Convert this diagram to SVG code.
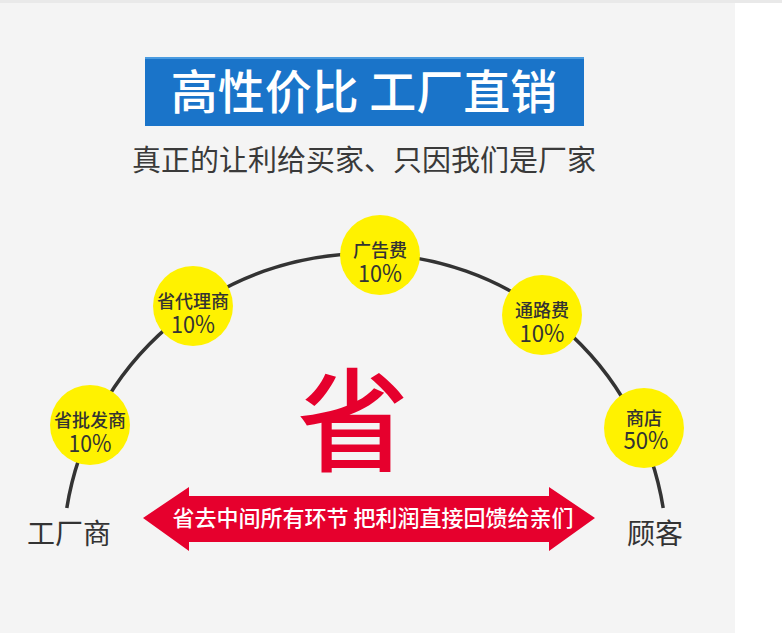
<svg xmlns="http://www.w3.org/2000/svg" width="782" height="639" viewBox="0 0 782 639">
<style>
.cjk{font-family:"Noto Sans CJK SC","Noto Sans",sans-serif}
.circ{fill:#fff200}
.lbl{font-size:18px;fill:#333;text-anchor:middle;font-weight:500}
.pct{font-size:24px;fill:#333;text-anchor:middle}
.end{font-size:28px;fill:#333;text-anchor:middle}
.arc{fill:none;stroke:#333;stroke-width:3.5}
</style>
<rect x="0" y="0" width="782" height="639" fill="#ffffff"/>
<rect x="0" y="0" width="735" height="633" fill="#f4f4f4"/>
<rect x="0" y="0" width="782" height="3" fill="#e9e9e9"/>
<g id="title">
<rect x="145" y="57" width="439" height="69" fill="#1a74c9"/>
<rect x="145" y="57" width="439" height="2" fill="#4a9be0"/>
<text class="cjk" x="364" y="109" font-size="47" font-weight="500" fill="#ffffff" text-anchor="middle">高性价比 工厂直销</text>
</g>
<g id="subtitle">
<text class="cjk" x="364" y="171" font-size="29" fill="#3a3a3a" text-anchor="middle">真正的让利给买家、只因我们是厂家</text>
</g>
<g id="connectors">
<path class="arc" d="M 66.8 508 A 302 302 0 0 1 663.2 508"/>
</g>
<g id="node-pifa">
<circle class="circ" cx="90" cy="425" r="40"/>
<text class="cjk lbl" x="90" y="427">省批发商</text>
<text class="cjk pct" x="90" y="452" textLength="43" lengthAdjust="spacingAndGlyphs">10%</text>
</g>
<g id="node-daili">
<circle class="circ" cx="193" cy="306" r="40"/>
<text class="cjk lbl" x="193" y="308">省代理商</text>
<text class="cjk pct" x="193" y="333" textLength="44" lengthAdjust="spacingAndGlyphs">10%</text>
</g>
<g id="node-guanggao">
<circle class="circ" cx="380" cy="255" r="40"/>
<text class="cjk lbl" x="380" y="257">广告费</text>
<text class="cjk pct" x="380" y="282" textLength="44" lengthAdjust="spacingAndGlyphs">10%</text>
</g>
<g id="node-tonglu">
<circle class="circ" cx="542" cy="315" r="40"/>
<text class="cjk lbl" x="542" y="317">通路费</text>
<text class="cjk pct" x="542" y="342" textLength="45" lengthAdjust="spacingAndGlyphs">10%</text>
</g>
<g id="node-shangdian">
<circle class="circ" cx="644" cy="428" r="40"/>
<text class="cjk lbl" x="644" y="425">商店</text>
<text class="cjk pct" x="646" y="449" textLength="45" lengthAdjust="spacingAndGlyphs">50%</text>
</g>
<g id="node-factory">
<text class="cjk end" x="69" y="544">工厂商</text>
</g>
<g id="node-customer">
<text class="cjk end" x="655" y="544">顾客</text>
</g>
<g id="save">
<text class="cjk" x="353" y="463" font-size="112" font-weight="500" fill="#e6002d" text-anchor="middle">省</text>
</g>
<g id="arrow">
<polygon points="143,518 189,487 189,496 549,496 549,487 595,518 549,551 549,542 189,542 189,551" fill="#e6002d"/>
<text class="cjk" x="373" y="526" font-size="22" font-weight="500" fill="#ffffff" text-anchor="middle">省去中间所有环节 把利润直接回馈给亲们</text>
</g>
</svg>
